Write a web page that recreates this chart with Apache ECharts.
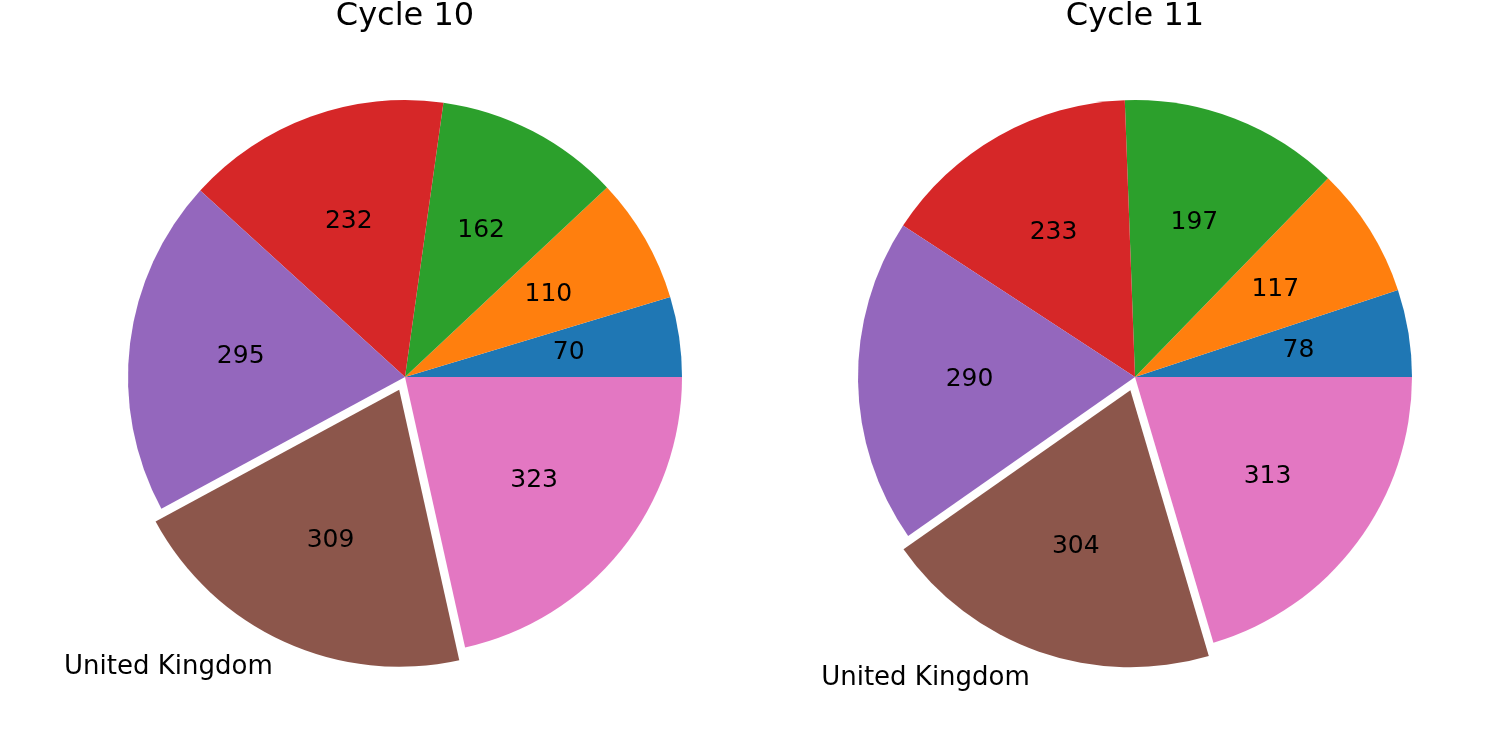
<!DOCTYPE html>
<html>
<head>
<meta charset="utf-8">
<script src="https://cdn.jsdelivr.net/npm/echarts@6/dist/echarts.min.js"></script>
<style>
  html, body { margin: 0; padding: 0; background: #fff; }
  #main { width: 1495px; height: 747px; }
</style>
</head>
<body>
<div id="main"></div>
<script>
// slice labels (only the exploded one is named on the chart)
var sliceLabels = ['', '', '', '', '', 'United Kingdom', ''];
var cycle10 = [70, 110, 162, 232, 295, 309, 323];
var cycle11 = [78, 117, 197, 233, 290, 304, 313];
var titles = ['Cycle 10', 'Cycle 11'];
var explodeIndex = 5;

var colors = ['#1f77b4', '#ff7f0e', '#2ca02c', '#d62728', '#9467bd', '#8c564b', '#e377c2'];
var R = 277;
var centers = [[405, 377], [1135, 377]];
var FONT = 'DejaVu Sans';

function pieData(vals) {
  return vals.map(function (v, i) {
    return {
      name: sliceLabels[i],
      value: v,
      selected: i === explodeIndex,
      itemStyle: { color: colors[i] },
      label: { show: i === explodeIndex }
    };
  });
}

var chart = echarts.init(document.getElementById('main'));
var series = [];
var titleList = [];
[cycle10, cycle11].forEach(function (vals, k) {
  titleList.push({
    text: titles[k],
    left: centers[k][0],
    top: 1,
    padding: 0,
    textAlign: 'center',
    textStyle: { fontFamily: FONT, fontSize: 32, fontWeight: 'normal', color: '#000' }
  });
  // coloured wedges + outer name label
  series.push({
    type: 'pie',
    center: centers[k],
    radius: [0, R],
    startAngle: 0,
    clockwise: false,
    selectedMode: 'single',
    selectedOffset: 14,
    avoidLabelOverlap: false,
    silent: true,
    animation: false,
    data: pieData(vals),
    label: {
      position: 'outside',
      formatter: '{b}',
      fontFamily: FONT,
      fontSize: 26,
      color: '#000',
      distanceToLabelLine: 0
    },
    labelLine: { show: false, length: R * 0.1, length2: 0 },
    emphasis: { disabled: true }
  });
  // invisible ring so the value labels sit near 0.6 R
  series.push({
    type: 'pie',
    center: centers[k],
    radius: [48, R],
    startAngle: 0,
    clockwise: false,
    selectedMode: 'single',
    selectedOffset: 14,
    avoidLabelOverlap: false,
    silent: true,
    animation: false,
    data: vals.map(function (v, i) {
      return { value: v, selected: i === explodeIndex };
    }),
    itemStyle: { color: 'rgba(0,0,0,0)' },
    label: {
      show: true,
      position: 'inside',
      formatter: '{c}',
      fontFamily: FONT,
      fontSize: 25,
      color: '#000'
    },
    labelLine: { show: false },
    emphasis: { disabled: true }
  });
});

chart.setOption({
  backgroundColor: '#fff',
  title: titleList,
  series: series
});
</script>
</body>
</html>
